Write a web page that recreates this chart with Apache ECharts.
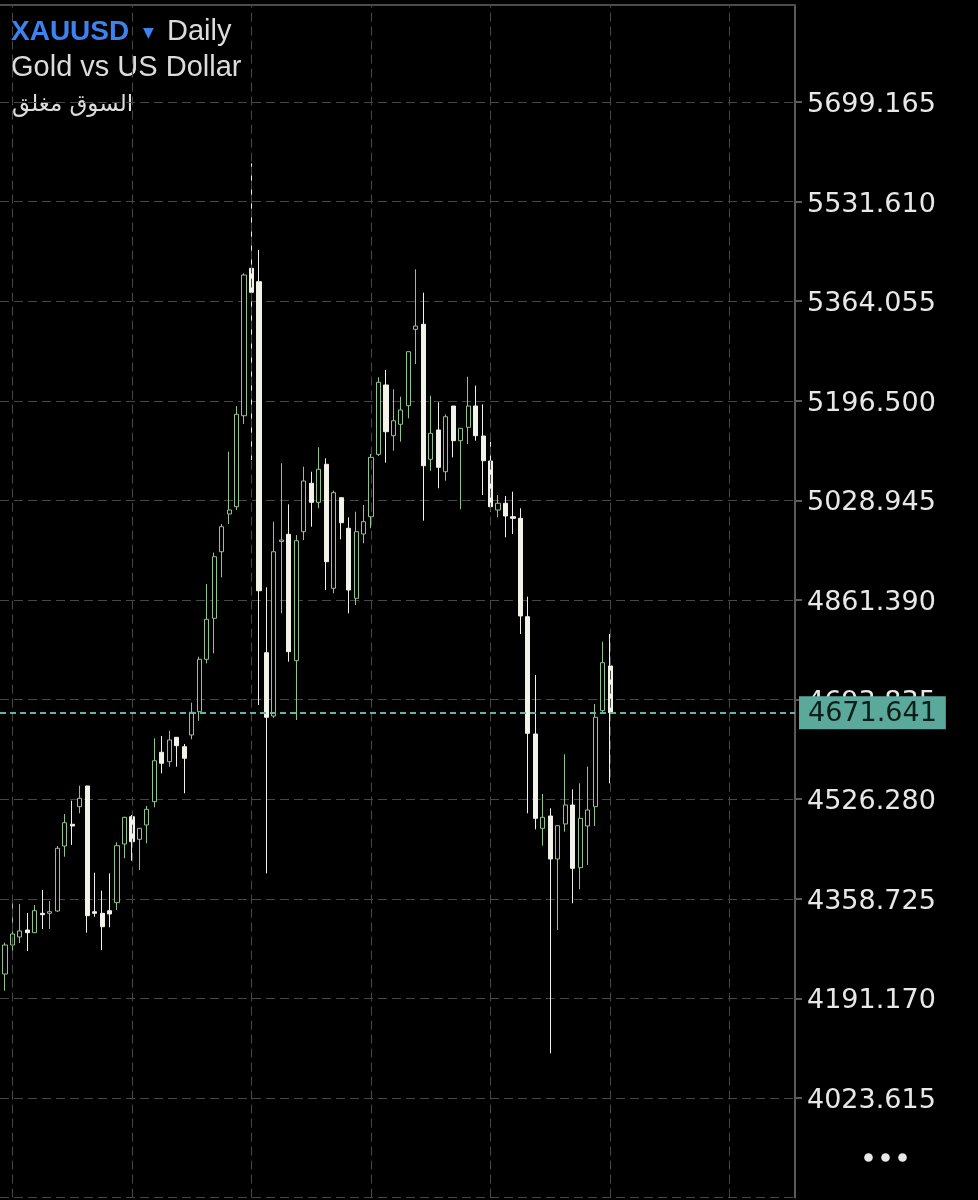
<!DOCTYPE html>
<html>
<head>
<meta charset="utf-8">
<script src="https://cdn.jsdelivr.net/npm/echarts@6/dist/echarts.min.js"></script>
<style>
html,body{margin:0;padding:0;background:#000;}
#chart{width:978px;height:1200px;}
</style>
</head>
<body>
<div id="chart"></div>
<script>
// ---- data ----
const symbol = 'XAUUSD';
const timeframe = 'Daily';
const description = 'Gold vs US Dollar';
const marketStatus = 'السوق مغلق';

const yTicks = [5699.165, 5531.610, 5364.055, 5196.500, 5028.945, 4861.390, 4693.835, 4526.280, 4358.725, 4191.170, 4023.615];
const lastPrice = 4671.641;

const opens = [4232.2,4281.0,4294.5,4306.2,4301.7,4334.3,4334.3,4338.2,4447.5,4484.1,
4513.7,4548.5,4337.0,4334.3,4338.7,4352.2,4450.9,4496.8,4458.8,4482.9,
4522.1,4605.2,4589.4,4630.4,4614.6,4634.3,4673.5,4761.6,4830.6,4942.6,
5006.1,5018.3,5171.4,5419.4,5396.9,4772.7,4666.2,4959.8,4971.9,4759.3,
4976.3,5057.7,5025.7,5089.7,4881.1,5033.5,4982.0,4864.2,4972.4,5001.5,
5106.5,5223.1,5137.8,5157.0,5188.3,5316.8,5325.2,5098.1,5147.4,5077.2,
5187.7,5129.4,5151.9,5187.7,5137.3,5095.2,5012.8,5024.1,5001.5,4998.8,
4833.3,4636.0,4477.3,4498.0,4425.7,4484.6,4516.5,4411.0,4481.2,4513.7,
4675.2,4750.4];
const closes = [4281.0,4299.5,4304.6,4301.7,4338.7,4332.0,4337.0,4443.7,4486.7,4481.2,
4527.8,4330.3,4334.3,4311.8,4333.2,4448.1,4495.8,4454.8,4477.3,4509.3,
4591.0,4586.7,4625.9,4616.3,4595.1,4672.5,4761.6,4828.9,4934.2,4984.7,
5012.8,5173.8,5408.1,5379.0,4877.0,4664.1,4942.6,4962.3,4774.4,4961.1,
5061.6,5025.7,5081.3,4925.8,5041.9,4991.4,4878.2,4976.3,4993.1,5101.4,
5227.6,5144.5,5163.0,5181.0,5279.1,5322.3,5087.3,5141.8,5084.6,5169.7,
5129.4,5150.2,5187.7,5137.8,5095.7,5018.3,5024.1,5002.7,4998.8,4834.5,
4637.1,4494.1,4495.8,4425.7,4481.7,4516.5,4410.0,4494.1,4508.1,4664.1,
4755.9,4671.641];
const lows = [4204.1,4257.5,4284.4,4270.9,4301.2,4307.9,4307.9,4337.0,4429.5,4449.2,
4502.6,4301.7,4328.6,4272.6,4310.8,4339.9,4426.9,4422.8,4407.2,4452.1,
4512.7,4569.8,4581.0,4581.0,4536.2,4627.0,4658.3,4754.9,4771.7,4899.6,
4989.2,5012.8,5157.5,5096.9,4684.7,4401.6,4662.9,4839.0,4757.6,4659.5,
4962.3,4984.7,5015.7,4878.2,4872.7,4963.5,4839.0,4853.0,4956.8,4982.0,
5103.6,5092.4,5112.6,5127.7,5167.1,5258.4,4994.8,5078.9,5049.3,5062.1,
5101.4,5014.0,5123.8,5129.4,5038.0,5009.9,5000.5,4966.9,4972.4,4804.2,
4502.6,4475.6,4448.1,4098.8,4306.2,4471.6,4351.2,4374.7,4415.6,4481.2,
4669.6,4553.0];
const highs = [4284.9,4353.3,4350.0,4334.8,4348.3,4373.5,4355.0,4447.5,4501.4,4523.8,
4549.0,4549.0,4402.6,4372.3,4401.6,4453.8,4496.8,4499.7,4477.3,4514.8,
4628.7,4632.6,4641.5,4630.4,4619.1,4688.6,4766.0,4888.3,4941.0,4989.2,
5110.9,5187.7,5411.0,5596.0,5450.2,4882.8,4993.1,5091.4,5022.4,4970.7,
5085.6,5077.2,5118.3,5099.8,5045.3,5033.5,5000.5,5009.9,5021.2,5107.0,
5236.0,5248.3,5215.8,5203.4,5279.1,5417.7,5378.4,5205.1,5194.0,5173.8,
5187.7,5150.2,5237.0,5221.9,5190.6,5127.7,5038.0,5036.3,5043.6,5015.7,
4866.9,4735.2,4535.0,4511.0,4481.7,4601.8,4542.9,4553.0,4581.0,4686.4,
4791.2,4804.2];

// ---- axis setup ----
const STEP = +(yTicks[0] - yTicks[1]).toFixed(3);               // price step between labels
const lowTick = yTicks[yTicks.length - 1];
const OFF = +(lowTick - Math.floor(lowTick / STEP) * STEP).toFixed(3); // shift so ticks are multiples of STEP
const yMinV = (Math.floor(lowTick / STEP) - 1) * STEP;          // one step below lowest label
const yMaxV = 5862.346 - OFF;                                   // visible top of the plot
const GRID_EVERY = 16;       // vertical grid line every 16 bars
const FIRST_GRID_BAR = 1;    // first vertical grid line on bar #1
const X_MIN = -1.669, X_MAX = 104.757;

const candleData = opens.map((o, i) => [
  i - FIRST_GRID_BAR,
  o - OFF, closes[i] - OFF, lows[i] - OFF, highs[i] - OFF
]);

const vGridValues = [];
for (let v = 0; v <= X_MAX; v += GRID_EVERY) vGridValues.push(v);

const gridDash = {color: '#474747', width: 1, type: [9, 5]};

const chart = echarts.init(document.getElementById('chart'), null, {renderer: 'canvas'});
chart.setOption({
  backgroundColor: '#000000',
  animation: false,
  grid: {left: 0, right: 183, top: 5, bottom: 2.4, containLabel: false},
  xAxis: {
    type: 'value',
    position: 'top',
    min: X_MIN,
    max: X_MAX,
    axisLine: {show: true, onZero: false, lineStyle: {color: '#4a4a4a', width: 2}},
    axisTick: {show: false},
    axisLabel: {show: false},
    splitLine: {show: false}
  },
  yAxis: {
    type: 'value',
    position: 'right',
    min: yMinV,
    max: yMaxV,
    interval: STEP,
    axisLine: {show: true, onZero: false, lineStyle: {color: '#5a5a5a', width: 2}},
    axisTick: {show: true, length: 7, lineStyle: {color: '#5a5a5a', width: 2}},
    axisLabel: {
      show: true, showMinLabel: false, showMaxLabel: false,
      margin: 12,
      formatter: v => '{t|' + (v + OFF).toFixed(3) + '}',
      rich: {
        t: {color: '#e8e8e8', fontSize: 27, fontFamily: 'DejaVu Sans', padding: [6, 0, 0, 0]}
      }
    },
    splitLine: {show: true, showMinLine: true, showMaxLine: false, lineStyle: gridDash}
  },
  series: [{
    type: 'line',
    data: [],
    z: 1,
    silent: true,
    markLine: {
      silent: true,
      animation: false,
      symbol: ['none', 'none'],
      lineStyle: gridDash,
      label: {show: false},
      data: vGridValues.map(v => ({xAxis: v}))
    }
  }, {
    type: 'candlestick',
    data: candleData,
    z: 3,
    barWidth: 4.6,
    clip: true,
    itemStyle: {
      color: '#000000',
      color0: '#f3f3ea',
      borderColor: '#8fc48c',
      borderColor0: '#f0f0e6',
      borderWidth: 1
    },
    markLine: {
      silent: true,
      animation: false,
      symbol: ['none', 'none'],
      lineStyle: {color: '#5fb5a6', width: 2, type: [6, 4]},
      label: {
        show: true, position: 'end', distance: 4,
        formatter: '{t|' + lastPrice.toFixed(3) + '}',
        backgroundColor: '#5aa99b',
        padding: [3, 9, 3, 9],
        rich: {
          t: {color: '#0c1d1a', fontSize: 27, fontFamily: 'DejaVu Sans', lineHeight: 27, padding: [3, 0, 0, 0]}
        }
      },
      data: [{yAxis: lastPrice - OFF}]
    }
  }],
  graphic: [
    {type: 'text', x: 11, y: 32, style: {text: symbol, fill: '#3c82f0', font: 'bold 28px "Liberation Sans"', verticalAlign: 'middle'}},
    {type: 'text', x: 143, y: 33, style: {text: '▼', fill: '#3c82f0', font: '14px "DejaVu Sans"', verticalAlign: 'middle'}},
    {type: 'text', x: 167, y: 32, style: {text: timeframe, fill: '#dcdcdc', font: '29px "Liberation Sans"', verticalAlign: 'middle'}},
    {type: 'text', x: 11, y: 68, style: {text: description, fill: '#dcdcdc', font: '29px "Liberation Sans"', verticalAlign: 'middle'}},
    {type: 'text', x: 12, y: 105, style: {text: marketStatus, fill: '#dcdcdc', font: '23px "DejaVu Sans"', verticalAlign: 'middle', align: 'left'}},
    {type: 'circle', shape: {cx: 868.5, cy: 1157.5, r: 4.3}, style: {fill: '#e8e8e8'}},
    {type: 'circle', shape: {cx: 885.5, cy: 1157.5, r: 4.3}, style: {fill: '#e8e8e8'}},
    {type: 'circle', shape: {cx: 902.5, cy: 1157.5, r: 4.3}, style: {fill: '#e8e8e8'}}
  ]
});
</script>
</body>
</html>
